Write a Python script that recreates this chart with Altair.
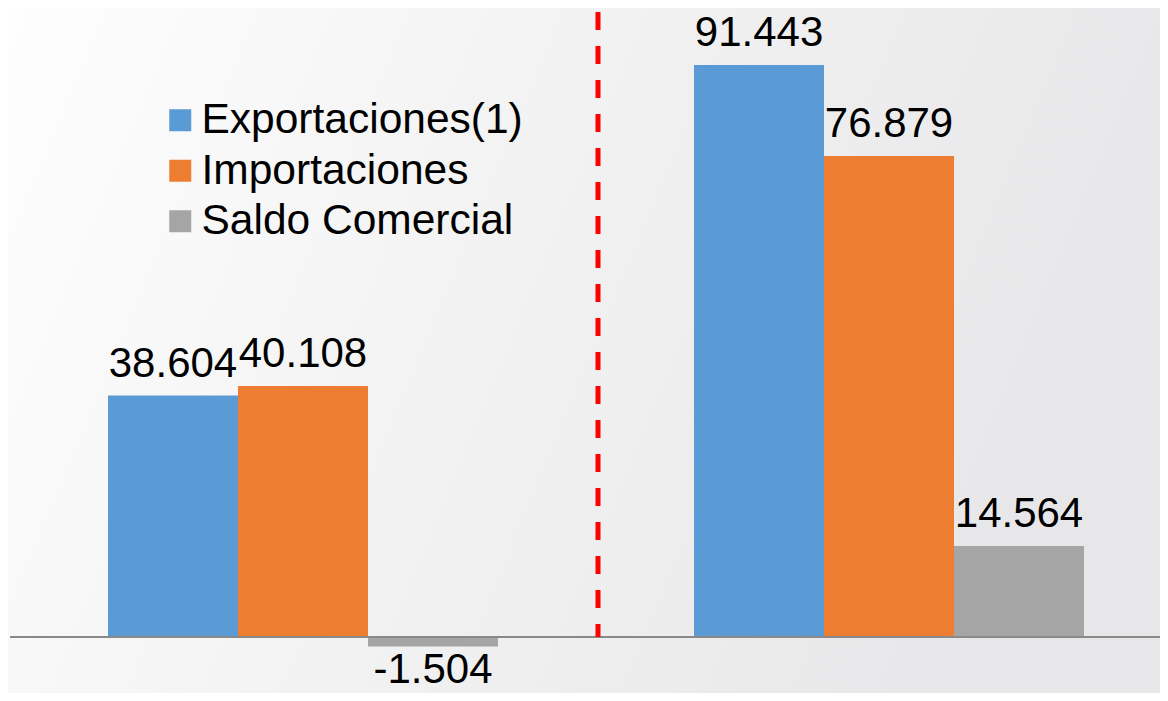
import altair as alt
import pandas as pd

groups = ["Periodo A", "Periodo B"]
series = ["Exportaciones(1)", "Importaciones", "Saldo Comercial"]
values_a = [38604, 40108, -1504]
values_b = [91443, 76879, 14564]
colors = ["#5B9BD5", "#ED7D31", "#A5A5A5"]

W, H = 1152, 685
FONT = "Liberation Sans"

rows = []
for g, vals in zip(groups, [values_a, values_b]):
    for s, v in zip(series, vals):
        rows.append({"grupo": g, "serie": s, "valor": v,
                     "etiqueta": f"{v:,}".replace(",", ".")})
df = pd.DataFrame(rows)

# zero at plot y=629, 91443 at plot y=57
PX = 572 / 91443
ytop = 629 / PX
ybot = -(H - 629) / PX

xscale = alt.Scale(domain=groups, range=[100, 1076], paddingInner=0.3345, paddingOuter=0)
xoff = alt.Scale(domain=series, paddingInner=0, paddingOuter=0)
yscale = alt.Scale(domain=[ybot, ytop], nice=False, zero=False)

bg = alt.Chart(pd.DataFrame({"k": [0]})).mark_rect(
    color=alt.Gradient(
        gradient="linear",
        stops=[alt.GradientStop(color="#fefefe", offset=0),
               alt.GradientStop(color="#f3f3f4", offset=0.45),
               alt.GradientStop(color="#e7e7e9", offset=1)],
        x1=0, x2=1, y1=0, y2=0.25,
    )
).encode(x=alt.value(-8), x2=alt.value(W + 8), y=alt.value(-8), y2=alt.value(H + 8))

base = alt.Chart(df).encode(
    x=alt.X("grupo:N", scale=xscale, axis=None),
    xOffset=alt.XOffset("serie:N", scale=xoff),
)

bars = base.mark_bar(strokeWidth=0).encode(
    y=alt.Y("valor:Q", scale=yscale, axis=None),
    y2=alt.datum(0),
    color=alt.Color("serie:N", scale=alt.Scale(domain=series, range=colors),
                    legend=alt.Legend(title=None, orient="none", legendX=151, legendY=91,
                                      symbolType="square", symbolSize=484,
                                      symbolStrokeWidth=0, symbolOpacity=1,
                                      labelFont=FONT, labelFontSize=42.5, labelColor="#000000",
                                      labelLimit=800, labelOffset=0, rowPadding=7.5,
                                      padding=0)),
)

pos_text = base.mark_text(font=FONT, fontSize=42, color="#000000",
                          baseline="alphabetic", dy=-19).encode(
    y=alt.Y("valor:Q", scale=yscale, axis=None),
    text="etiqueta:N",
).transform_filter("datum.valor >= 0")

neg_text = base.mark_text(font=FONT, fontSize=42, color="#000000",
                          baseline="alphabetic", dy=37).encode(
    y=alt.Y("valor:Q", scale=yscale, axis=None),
    text="etiqueta:N",
).transform_filter("datum.valor < 0")

zero_line = alt.Chart(pd.DataFrame({"cero": [0]})).mark_rule(
    color="#898989", strokeWidth=2
).encode(y=alt.Y("cero:Q", scale=yscale, axis=None), x=alt.value(2), x2=alt.value(W + 8))

divider = alt.Chart(pd.DataFrame({"cero": [0]})).mark_rule(
    color="#ff0000", strokeWidth=5, strokeDash=[18, 16]
).encode(x=alt.value(590), y=alt.value(4), y2=alt.value(629))

chart = alt.layer(bg, bars, zero_line, divider, pos_text, neg_text).properties(
    width=W, height=H, padding=0, autosize="none", background="#ffffff"
).configure_view(stroke=None)

chart.save("out.html", embed_options={"renderer": "svg", "actions": False})
